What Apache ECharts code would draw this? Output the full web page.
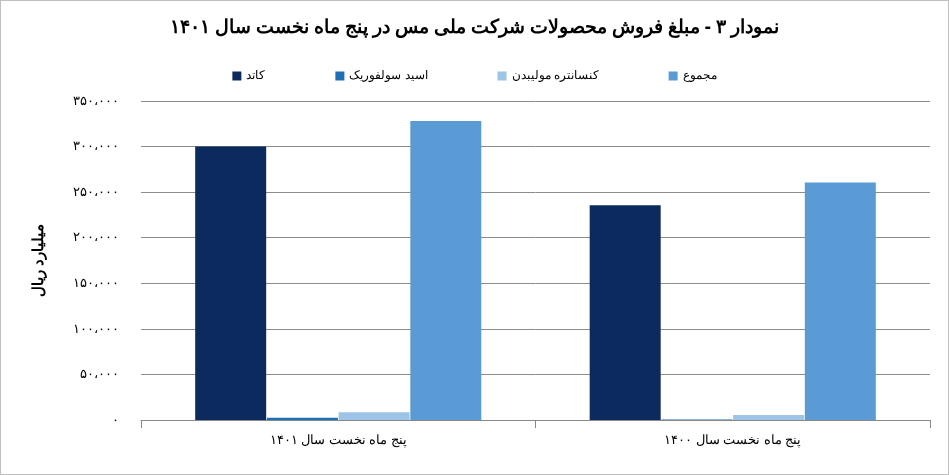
<!DOCTYPE html>
<html><head><meta charset="utf-8">
<script src="https://cdn.jsdelivr.net/npm/echarts@6/dist/echarts.min.js"></script>
<style>html,body{margin:0;padding:0;background:#fff}#c{width:949px;height:475px;box-sizing:border-box;border:1px solid #bfbfbf}</style>
</head><body><div id="c"></div>
<script>
var categories = ['پنج ماه نخست سال ۱۴۰۱', 'پنج ماه نخست سال ۱۴۰۰'];
var seriesNames = ['کاتد', 'اسید سولفوریک', 'کنسانتره مولیبدن', 'مجموع'];
var cathode = [300000, 235500];
var sulfuric = [2500, 500];
var molybdenum = [8500, 5500];
var total = [328000, 260500];
var colors = ['#0c2a5e', '#1f6fb4', '#9dc3e6', '#5b9bd5'];
function fa(n){return String(n).replace(/\d/g,function(d){return '۰۱۲۳۴۵۶۷۸۹'[d];});}
function fmt(v){return v===0?'۰':fa(v.toLocaleString('en-US')).replace(/,/g,'،');}
var chart = echarts.init(document.getElementById('c'));
var data=[cathode,sulfuric,molybdenum,total];
chart.setOption({
  animation:false,
  title:{text:'نمودار ۳ - مبلغ فروش محصولات شرکت ملی مس در پنج ماه نخست سال ۱۴۰۱',left:'center',top:12,textStyle:{fontFamily:'Noto Sans',fontWeight:'bold',fontSize:19,color:'#000'}},
  legend:{top:64,left:'center',itemWidth:9,itemHeight:9,itemGap:70,icon:'rect',textStyle:{fontFamily:'Noto Sans',fontSize:12,color:'#000'},data:seriesNames},
  grid:{left:140,right:18,top:100,bottom:54},
  xAxis:{type:'category',data:categories,axisTick:{show:true,length:8,lineStyle:{color:'#888'}},axisLine:{lineStyle:{color:'#888'}},axisLabel:{fontFamily:'Noto Sans',fontSize:13,color:'#000',margin:14}},
  yAxis:{type:'value',min:0,max:350000,interval:50000,name:'میلیارد ریال',nameLocation:'middle',nameRotate:90,nameGap:95,nameTextStyle:{fontFamily:'Noto Sans',fontWeight:'bold',fontSize:15,color:'#000'},
    axisLabel:{formatter:fmt,fontFamily:'Noto Sans',fontSize:13,color:'#000',margin:22},splitLine:{lineStyle:{color:'#8c8c8c'}},axisLine:{show:false}},
  series:seriesNames.map(function(n,i){return {name:n,type:'bar',data:data[i],itemStyle:{color:colors[i]},barWidth:71,barGap:'1%'};})
});
</script></body></html>
